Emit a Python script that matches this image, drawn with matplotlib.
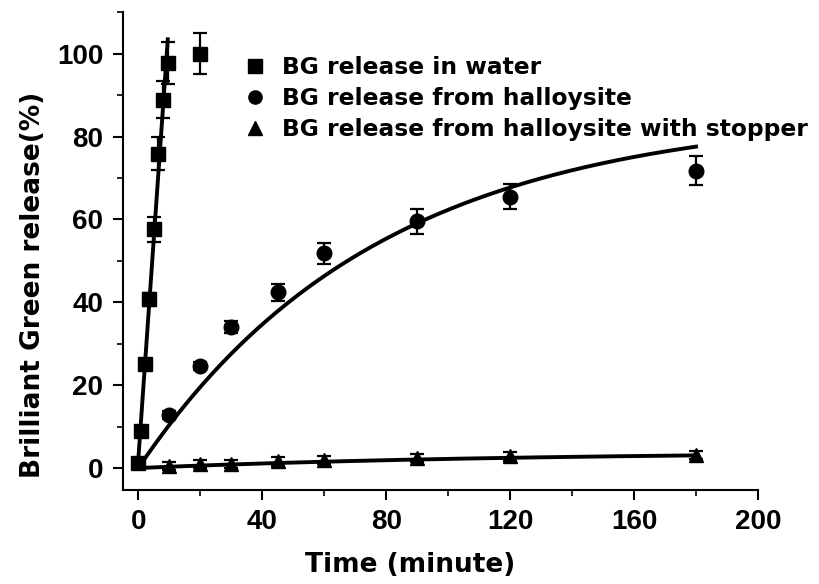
import numpy as np
import matplotlib
matplotlib.use("Agg")
import matplotlib.pyplot as plt
from matplotlib.ticker import MultipleLocator
from matplotlib.lines import Line2D

plt.rcParams['font.family'] = ['Liberation Sans', 'DejaVu Sans']
plt.rcParams['font.weight'] = 'bold'

# Data
water_t = [0, 1, 2, 3.5, 5, 6.5, 8, 9.5, 20]
water_y = [1.2, 8.9, 25.1, 40.7, 57.6, 75.9, 88.9, 97.8, 100.0]
water_err = [1.0, 1.0, 1.0, 1.5, 3.0, 4.0, 4.5, 5.0, 5.0]

hal_t = [10, 20, 30, 45, 60, 90, 120, 180]
hal_y = [12.8, 24.6, 34.0, 42.4, 51.8, 59.5, 65.5, 71.8]
hal_err = [1.0, 1.0, 1.5, 2.0, 2.5, 3.0, 3.0, 3.6]

stop_t = [10, 20, 30, 45, 60, 90, 120, 180]
stop_y = [0.5, 1.0, 1.0, 1.6, 2.0, 2.5, 2.8, 3.1]
stop_err = [1.0, 1.0, 1.0, 1.0, 1.0, 1.0, 1.0, 1.0]

# fit model parameters (first-order release)
hal_A, hal_k = 86.0, 0.0129
stop_A, stop_k = 4.0, 0.008

labels = ["BG release in water", "BG release from halloysite",
          "BG release from halloysite with stopper"]

fig = plt.figure(figsize=(8.19, 5.84), dpi=100)
ax = fig.add_axes([0.150, 0.161, 0.7755, 0.818])

ekw = dict(ecolor='black', elinewidth=1.6, capsize=5, capthick=1.6, linestyle='none', color='black')
ax.errorbar(water_t, water_y, yerr=water_err, marker='s', markersize=10, **ekw)
ax.errorbar(hal_t, hal_y, yerr=hal_err, marker='o', markersize=10.5, **ekw)
ax.errorbar(stop_t, stop_y, yerr=stop_err, marker='^', markersize=10.5, **ekw)

# water linear fit
wt = np.array(water_t[:-1]); wy = np.array(water_y[:-1])
p = np.polyfit(wt, wy, 1)
tw = np.linspace(0, wt.max(), 10)
ax.plot(tw, np.polyval(p, tw), color='black', lw=2.8)

tt = np.linspace(0, max(hal_t), 300)
ax.plot(tt, hal_A * (1 - np.exp(-hal_k * tt)), color='black', lw=2.8)
ax.plot(tt, stop_A * (1 - np.exp(-stop_k * tt)), color='black', lw=2.8)

ax.set_xlim(-5, 200)
ax.set_ylim(-5.3, 110)
ax.spines['top'].set_visible(False)
ax.spines['right'].set_visible(False)
for s in ['left', 'bottom']:
    ax.spines[s].set_linewidth(1.5)
ax.xaxis.set_major_locator(MultipleLocator(40))
ax.xaxis.set_minor_locator(MultipleLocator(20))
ax.yaxis.set_major_locator(MultipleLocator(20))
ax.yaxis.set_minor_locator(MultipleLocator(10))
ax.tick_params(which='major', direction='out', length=7, width=1.5, labelsize=20, pad=7)
ax.tick_params(which='minor', direction='out', length=4, width=1.2)
for lab in ax.get_xticklabels() + ax.get_yticklabels():
    lab.set_fontweight('bold')

lab_font = dict(family='DejaVu Sans', fontsize=19, fontweight='bold')
ax.set_xlabel("Time (minute)", va='top', **lab_font)
ax.xaxis.set_label_coords(0.452, -0.130)
ax.set_ylabel("Brilliant Green release(%)", va='bottom', **lab_font)
ax.yaxis.set_label_coords(-0.121, 0.429)

handles = [Line2D([], [], marker=m, color='black', linestyle='none', markersize=9.5)
           for m in ['s', 'o', '^']]
leg = ax.legend(handles, labels, loc='upper left', bbox_to_anchor=(0.189, 0.909),
                frameon=False, prop=dict(family='DejaVu Sans', size=16.8, weight='bold'),
                handlelength=1.0, handletextpad=0.69, labelspacing=0.35,
                borderaxespad=0, borderpad=0)

fig.savefig("out.png", dpi=100)
